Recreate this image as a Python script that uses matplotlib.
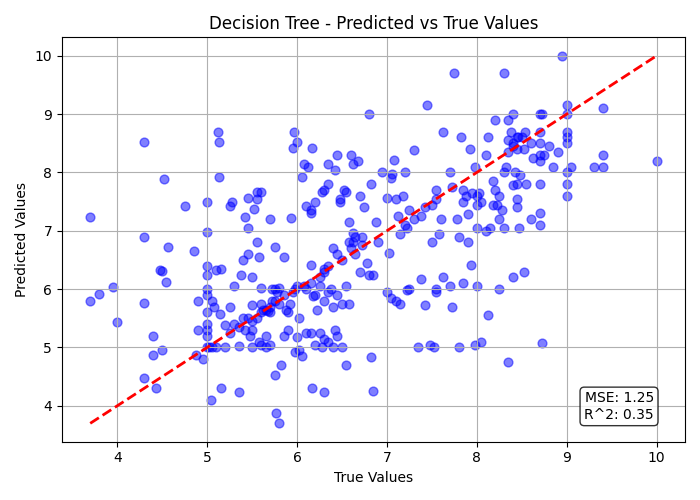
import matplotlib
matplotlib.use("Agg")
import matplotlib.pyplot as plt
import numpy as np

points = [
    (3.7, 7.23), (3.7, 5.8), (3.8, 5.92), (3.95, 6.04), (4.0, 5.43), (4.3, 8.52), (4.3, 6.9),
    (4.3, 5.76), (4.3, 4.47), (4.4, 5.19), (4.4, 4.87), (4.43, 4.3), (4.48, 6.33), (4.5, 6.31),
    (4.5, 4.95), (4.52, 7.88), (4.54, 6.13), (4.57, 6.72), (4.75, 7.43), (4.85, 6.65),
    (4.88, 4.87), (4.9, 5.3), (4.9, 5.8), (4.95, 4.8),
    (5, 7.49), (5, 6.98), (5, 6.4), (5, 6.25), (5, 6.0), (5, 5.9), (5, 5.6), (5, 5.4), (5, 5.3),
    (5, 5.2), (5, 5.0), (5.02, 5.0), (5.05, 5.0), (5.1, 5.0), (5.04, 4.1), (5.05, 5.8),
    (5.08, 5.7), (5.1, 6.33), (5.12, 8.7), (5.13, 8.52), (5.13, 7.92), (5.14, 5.57),
    (5.15, 6.35), (5.15, 4.3), (5.2, 5.39), (5.2, 5.0), (5.25, 7.42), (5.25, 5.7), (5.28, 7.5),
    (5.3, 6.05), (5.35, 4.24), (5.35, 5.35), (5.35, 5.02), (5.38, 6.25), (5.4, 6.5), (5.42, 7.23),
    (5.46, 7.57), (5.45, 7.05), (5.5, 5.72), (5.5, 6.2), (5.5, 5.0), (5.55, 7.66), (5.6, 5.05),
    (5.45, 6.6), (5.58, 6.55), (5.6, 5.75),
    (5.25, 5.25), (5.3, 5.4), (5.4, 5.5), (5.5, 5.45), (5.55, 5.5), (5.6, 5.6), (5.65, 5.65),
    (5.7, 5.7), (5.7, 5.6), (5.75, 5.8), (5.8, 5.75), (5.78, 5.95), (5.72, 6.0), (5.8, 6.02),
    (5.85, 5.9), (5.9, 5.6), (5.92, 5.75), (5.95, 5.95), (5.98, 6.0), (6.0, 6.05), (5.75, 6.72),
    (5.7, 7.2), (5.65, 5.0), (5.75, 4.52), (5.77, 3.88), (5.8, 3.7), (5.82, 4.7), (5.9, 5.3),
    (5.93, 7.22), (5.95, 8.42), (5.97, 8.7), (6.0, 8.52), (5.98, 4.93), (6.0, 5.18), (6.02, 4.95),
    (6.05, 4.85), (5.55, 6.8), (5.52, 7.38), (5.6, 7.67), (5.55, 7.55), (5.85, 6.55), (5.88, 5.65),
    (6.02, 5.5), (5.42, 5.3), (5.45, 5.5), (5.48, 5.2), (5.5, 5.3), (5.58, 5.1), (5.65, 5.2),
    (5.7, 5.05), (5.72, 5.8), (5.75, 6.0), (5.62, 5.65), (5.68, 5.62), (5.85, 5.2), (5.6, 6.02),
    (6.05, 7.92), (6.08, 8.15), (6.1, 7.43), (6.12, 8.1), (6.15, 7.3), (6.17, 8.42), (6.15, 7.36),
    (6.2, 7.5), (6.28, 7.67), (6.3, 7.7), (6.35, 7.8), (6.35, 8.14), (6.42, 8.05), (6.45, 8.3),
    (6.48, 7.55), (6.48, 7.5), (6.55, 7.67), (6.6, 8.3), (6.62, 8.15), (6.68, 8.2), (6.7, 7.6),
    (6.58, 7.15), (6.62, 6.97), (6.52, 7.7), (6.4, 6.7), (6.3, 6.3), (6.25, 6.2), (6.3, 6.35),
    (6.35, 6.4), (6.45, 6.6), (6.5, 6.5), (6.6, 6.7), (6.62, 6.8), (6.65, 6.6), (6.7, 6.3),
    (6.72, 6.75), (6.72, 6.9), (6.75, 7.4), (6.78, 6.45), (6.8, 6.25), (6.8, 9.0), (6.82, 7.8),
    (6.85, 6.25), (6.88, 7.15), (6.9, 6.8), (6.2, 5.9), (6.15, 6.1), (6.1, 6.0), (6.08, 6.05),
    (6.18, 5.88), (6.22, 5.65), (6.25, 6.05), (6.3, 5.8), (6.35, 5.95), (6.38, 6.0), (6.4, 5.7),
    (6.45, 5.9), (6.5, 5.75), (6.55, 6.05), (6.15, 6.42), (6.1, 5.25), (6.15, 5.25), (6.25, 5.25),
    (6.2, 5.05), (6.3, 5.15), (6.35, 5.1), (6.4, 5.0), (6.42, 5.3), (6.45, 5.2), (6.5, 5.0),
    (6.28, 5.0), (6.58, 5.75), (6.55, 4.7), (6.17, 4.3), (6.3, 4.24), (6.82, 4.83), (6.85, 4.25),
    (6.65, 6.9), (6.58, 6.8),
    (6.95, 8.0), (7.0, 7.56), (7.02, 6.62), (7.05, 7.9), (7.06, 7.98), (7.08, 8.22), (7.1, 7.55),
    (7.12, 7.25), (7.15, 6.95), (7.18, 7.6), (7.2, 7.1), (7.22, 7.05), (7.25, 7.35), (7.25, 6.0),
    (7.22, 5.98), (7.1, 5.8), (7.05, 5.85), (7.0, 5.95), (7.15, 5.75), (7.2, 8.0), (7.3, 8.38),
    (7.3, 7.2), (7.38, 7.25), (7.42, 7.4), (7.5, 7.45), (7.45, 9.15), (7.55, 7.55), (7.58, 6.95),
    (7.6, 7.2), (7.62, 8.7), (7.7, 8.0), (7.72, 7.75), (7.75, 9.7), (7.78, 7.2), (7.8, 6.9),
    (7.82, 8.6), (7.85, 7.7), (7.88, 7.6), (7.9, 7.28), (7.92, 8.4), (7.95, 7.65), (7.98, 8.1),
    (8.0, 7.45), (8.0, 7.6), (7.55, 7.7), (7.5, 6.8), (7.52, 5.0), (7.55, 5.95), (7.55, 6.0),
    (7.42, 5.72), (7.38, 6.18), (7.35, 5.0), (7.48, 5.05), (7.62, 6.2), (7.7, 6.05), (7.72, 5.7),
    (7.8, 5.0), (7.85, 6.1), (7.9, 6.8), (7.93, 6.42), (7.98, 5.05), (8.0, 6.05), (8.05, 5.1),
    (8.0, 7.05), (7.85, 7.5),
    (8.02, 7.65), (8.05, 7.5), (8.1, 8.3), (8.12, 8.6), (8.15, 7.05), (8.18, 7.85), (8.2, 8.9),
    (8.22, 7.45), (8.25, 7.2), (8.28, 7.35), (8.3, 7.05), (8.3, 9.7), (8.32, 8.1), (8.35, 8.55),
    (8.38, 8.7), (8.4, 8.45), (8.4, 7.78), (8.4, 6.2), (8.42, 8.0), (8.45, 7.4), (8.45, 7.8),
    (8.46, 8.6), (8.48, 7.95), (8.5, 8.6), (8.52, 8.4), (8.54, 8.7), (8.35, 8.9), (8.4, 9.0),
    (8.4, 8.5), (8.52, 6.3), (8.55, 7.8), (8.6, 7.2), (8.62, 8.25), (8.7, 8.7), (8.7, 8.5),
    (8.7, 8.3), (8.7, 8.2), (8.7, 7.8), (8.7, 7.3), (8.7, 7.1), (8.7, 9.0), (8.72, 9.0),
    (8.75, 8.3), (8.8, 8.45), (8.85, 8.1), (8.9, 8.35), (8.95, 10.0), (9.0, 9.15), (9.0, 9.0),
    (9.0, 8.7), (9.0, 8.6), (9.0, 8.5), (9.0, 8.0), (9.0, 7.8), (9.0, 7.6), (9.05, 8.1),
    (8.72, 5.07), (8.35, 4.75), (8.12, 5.55), (8.25, 6.0), (8.1, 7.0), (9.3, 8.1), (9.4, 8.3),
    (9.4, 8.1), (9.4, 9.1), (10.0, 8.2), (8.6, 8.5), (8.45, 8.6), (8.45, 8.4), (8.35, 8.35),
    (8.3, 8.0), (8.2, 7.7), (8.25, 7.6), (8.45, 7.55), (8.47, 7.05), (8.18, 7.45),
]
y_true = np.array([p[0] for p in points])
y_pred = np.array([p[1] for p in points])
mse = 1.25
r2 = 0.35

fig, ax = plt.subplots(figsize=(7, 5), dpi=100)
ax.scatter(y_true, y_pred, color="blue", alpha=0.5, s=40)
lims = [y_true.min(), y_true.max()]
ax.plot(lims, lims, "r--", lw=2)
ax.set_title("Decision Tree - Predicted vs True Values")
ax.set_xlabel("True Values")
ax.set_ylabel("Predicted Values")
ax.grid(True)
ax.text(0.95, 0.05, f"MSE: {mse:.2f}\nR^2: {r2:.2f}", transform=ax.transAxes,
        ha="right", va="bottom", bbox=dict(boxstyle="round", facecolor="white", alpha=0.8))
plt.tight_layout()
plt.savefig("out.png")
